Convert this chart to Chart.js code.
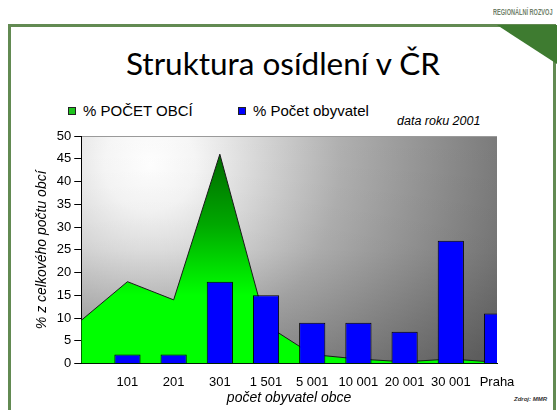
<!DOCTYPE html>
<html>
<head>
<meta charset="utf-8">
<script src="https://cdn.jsdelivr.net/npm/chart.js@4/dist/chart.umd.min.js"></script>
<style>
    html, body { margin: 0; padding: 0; background: #fff; }
    body { width: 558px; height: 410px; position: relative; overflow: hidden; font-family: "Liberation Sans", Arial, sans-serif; }
    .frame { position: absolute; left: 8px; top: 24px; width: 542px; height: 420px; border: 3px solid #628a52; border-bottom: none; }
    .corner { position: absolute; left: 497px; top: 25px; width: 60px; height: 39px; background: #3e7b30; clip-path: polygon(0 0, 100% 0, 100% 100%); }
    .logo { position: absolute; left: 493px; top: 7px; font: bold 9px "Liberation Sans Narrow", "Liberation Sans", sans-serif; color: #6f7f6a; white-space: nowrap; transform: scale(0.62, 1); transform-origin: 0 0; }
    .title { position: absolute; left: 0; width: 566px; top: 44px; text-align: center; font: 31.5px Lato, sans-serif; line-height: 38px; color: #000; }
    .note { position: absolute; left: 397px; top: 114px; font: italic 12.5px "Liberation Sans", sans-serif; color: #000; }
    .source { position: absolute; left: 514px; top: 396px; font: italic bold 6px "Liberation Sans", sans-serif; color: #333; }
    #legend { position: absolute; left: 68px; top: 102px; display: flex; font: 15px "Liberation Sans", sans-serif; line-height: 17px; color: #000; }
    #legend .item { display: flex; align-items: center; }
    #legend .box { width: 6px; height: 6px; border: 1px solid #222; margin-right: 7px; }
    canvas { position: absolute; left: 0; top: 0; }
</style>
</head>
<body>
<div class="frame"></div>
<div class="corner"></div>
<div class="logo">REGIONÁLNÍ ROZVOJ</div>
<div class="title">Struktura osídlení v ČR</div>
<div id="legend"></div>
<div class="note">data roku 2001</div>
<div class="source">Zdroj: MMR</div>
<canvas id="chart" width="558" height="410"></canvas>
<script>
// velikostní skupiny obcí (první bod je začátek osy, bez popisku)
const categories = ['', '101', '201', '301', '1 501', '5 001', '10 001', '20 001', '30 001', 'Praha'];
// % počtu obcí (plocha)
const obceShare = [9.5, 18, 14, 46, 8.5, 2.0, 1.0, 0.4, 1.0, 0.3];
// % počtu obyvatel (sloupce)
const obyvatelShare = [null, 2, 2, 18, 15, 9, 9, 7, 27, 11];
const yMin = 0;
const yMax = 50;
const yStep = 5;

const legendLabels = ['% POČET OBCÍ', '% Počet obyvatel'];
const legendColors = ['#1ec41e', '#0000ff'];
const legendWidths = [170, 140];

function areaFill(context) {
    const chart = context.chart;
    const { chartArea, scales } = chart;
    if (!chartArea) return '#00ff00';
    const g = chart.ctx.createLinearGradient(0, scales.y.getPixelForValue(46), 0, scales.y.getPixelForValue(15));
    g.addColorStop(0, '#006a00');
    g.addColorStop(0.5, '#00a800');
    g.addColorStop(0.85, '#00e600');
    g.addColorStop(1, '#00ff00');
    return g;
}

const plotBackground = {
    id: 'plotBackground',
    beforeDraw(chart) {
        const { ctx, chartArea: a } = chart;
        ctx.save();
        const g = ctx.createRadialGradient(150, 165, 0, 150, 165, 380);
        g.addColorStop(0, '#ffffff');
        g.addColorStop(0.12, '#f6f6f6');
        g.addColorStop(0.5, '#b0b0b0');
        g.addColorStop(1, '#707070');
        ctx.fillStyle = g;
        ctx.fillRect(a.left, a.top, a.right - a.left, a.bottom - a.top);
        const v = ctx.createLinearGradient(0, a.top, 0, a.bottom);
        v.addColorStop(0, 'rgba(0,0,0,0)');
        v.addColorStop(0.5, 'rgba(0,0,0,0.03)');
        v.addColorStop(1, 'rgba(0,0,0,0.18)');
        ctx.fillStyle = v;
        ctx.fillRect(a.left, a.top, a.right - a.left, a.bottom - a.top);
        ctx.strokeStyle = '#9a9a9a';
        ctx.lineWidth = 1;
        ctx.beginPath();
        ctx.moveTo(a.left, a.top + 0.5);
        ctx.lineTo(a.right, a.top + 0.5);
        ctx.stroke();
        ctx.restore();
    }
};

const htmlLegend = {
    id: 'htmlLegend',
    afterUpdate(chart) {
        const box = document.getElementById('legend');
        box.innerHTML = '';
        chart.data.datasets.forEach((ds, i) => {
            const item = document.createElement('div');
            item.className = 'item';
            item.style.width = legendWidths[i] + 'px';
            const sw = document.createElement('span');
            sw.className = 'box';
            sw.style.background = legendColors[i];
            const txt = document.createElement('span');
            txt.textContent = ds.label;
            item.appendChild(sw);
            item.appendChild(txt);
            box.appendChild(item);
        });
    }
};

new Chart(document.getElementById('chart'), {
    type: 'bar',
    data: {
        labels: categories,
        datasets: [{
            type: 'line',
            label: legendLabels[0],
            data: obceShare,
            fill: 'origin',
            backgroundColor: areaFill,
            borderColor: '#1a1a1a',
            borderWidth: 1,
            pointRadius: 0,
            tension: 0,
            order: 2
        }, {
            type: 'bar',
            label: legendLabels[1],
            data: obyvatelShare,
            backgroundColor: '#0000ff',
            borderColor: '#000000',
            borderWidth: 1,
            barPercentage: 0.9,
            categoryPercentage: 0.63,
            order: 1
        }]
    },
    options: {
        responsive: false,
        animation: false,
        layout: { padding: { left: 35, top: 136, right: 61, bottom: 3 } },
        plugins: {
            legend: { display: false },
            tooltip: { enabled: false }
        },
        scales: {
            x: {
                offset: false,
                grid: { display: false, drawTicks: false },
                border: { display: true, color: '#000', width: 1 },
                ticks: {
                    autoSkip: false,
                    maxRotation: 0,
                    padding: 11,
                    color: '#000',
                    font: { family: '"Liberation Sans", Arial, sans-serif', size: 13 }
                },
                title: {
                    display: true,
                    text: 'počet obyvatel obce',
                    color: '#000',
                    padding: { top: -11, bottom: 0 },
                    font: { family: '"Liberation Sans", Arial, sans-serif', size: 14, style: 'italic' }
                }
            },
            y: {
                min: yMin,
                max: yMax,
                grid: { drawOnChartArea: false, drawTicks: true, tickLength: 7, color: '#000' },
                border: { display: true, color: '#000', width: 1 },
                ticks: {
                    stepSize: yStep,
                    padding: 3,
                    color: '#000',
                    font: { family: '"Liberation Sans", Arial, sans-serif', size: 13 }
                },
                title: {
                    display: true,
                    text: '% z celkového počtu obcí',
                    color: '#000',
                    padding: { top: -1, bottom: 3 },
                    font: { family: '"Liberation Sans", Arial, sans-serif', size: 14, style: 'italic' }
                }
            }
        }
    },
    plugins: [plotBackground, htmlLegend]
});
</script>
</body>
</html>
